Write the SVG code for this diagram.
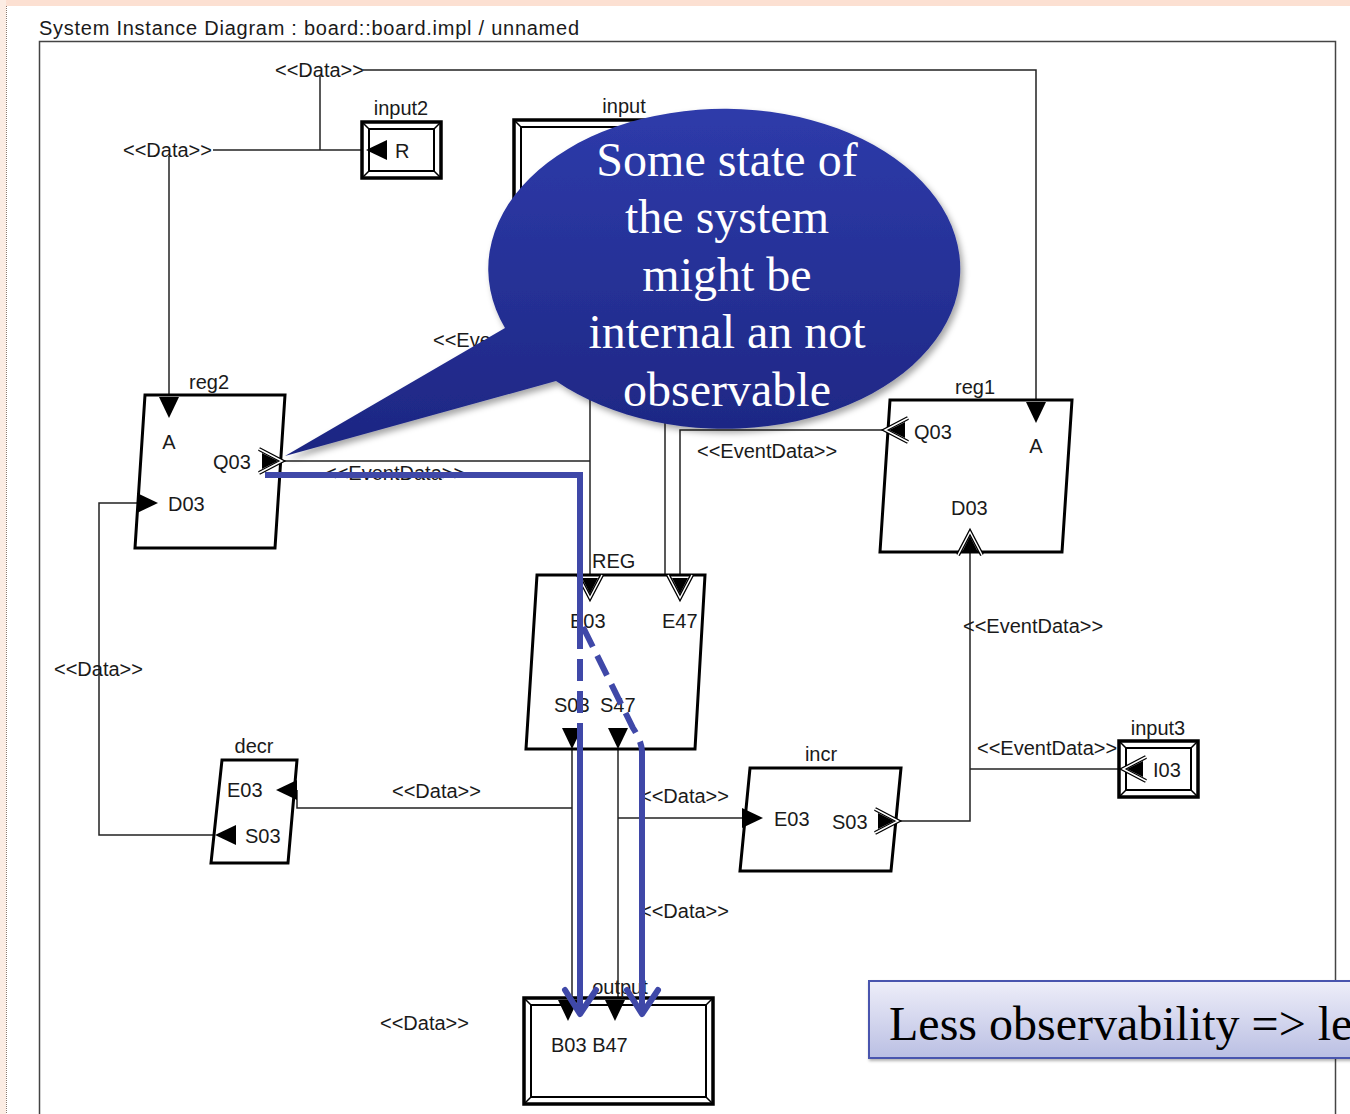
<svg xmlns="http://www.w3.org/2000/svg" xmlns:xlink="http://www.w3.org/1999/xlink" width="1350" height="1114" viewBox="0 0 1350 1114">
<style>
.t{font-family:"Liberation Sans",Arial,sans-serif;font-size:20px;fill:#1a1a1a}
.c{text-anchor:middle}
.w{fill:none;stroke:#222;stroke-width:1.5}
.node{fill:#fff;stroke:#000;stroke-width:3;stroke-linejoin:miter}
.outer{fill:#fff;stroke:#000;stroke-width:3.5}
.inner{fill:none;stroke:#000;stroke-width:2}
.bev{stroke:#000;stroke-width:1.5}
.blue{fill:none;stroke:#3F48A8;stroke-width:6}
.dash{stroke-dasharray:22 10}
.serif{font-family:"Liberation Serif","Times New Roman",serif;font-size:48px}
</style>
<defs>
<polygon id="dp" points="0,-10 21,0 0,10" fill="#000"/>
<g id="edp">
<polyline points="-3,-12 20,0 -3,12" fill="none" stroke="#000" stroke-width="4"/>
<polyline points="-3,-12 20,0 -3,12" fill="none" stroke="#fff" stroke-width="1.5"/>
<polygon points="0,-8 16,0 0,8" fill="#000"/>
</g>
<linearGradient id="bg1" x1="0" y1="0" x2="0" y2="1">
<stop offset="0" stop-color="#2E3BAA"/>
<stop offset="1" stop-color="#1D2682"/>
</linearGradient>
<linearGradient id="bg2" x1="0" y1="0" x2="0" y2="1">
<stop offset="0" stop-color="#EEEEF9"/>
<stop offset="1" stop-color="#BABFE3"/>
</linearGradient>
<filter id="sh" x="-10%" y="-10%" width="130%" height="130%">
<feDropShadow dx="3" dy="4" stdDeviation="3" flood-color="#000" flood-opacity="0.35"/>
</filter>
<filter id="sh2" x="-10%" y="-10%" width="130%" height="130%">
<feDropShadow dx="1" dy="2" stdDeviation="1.5" flood-color="#000" flood-opacity="0.3"/>
</filter>
</defs>

<rect width="1350" height="1114" fill="#fff"/>
<rect x="0" y="0" width="1350" height="6" fill="#FCE0D2"/>
<rect x="0" y="0" width="6" height="1114" fill="#FCEDE4"/>
<line x1="6.5" y1="6" x2="6.5" y2="1114" stroke="#8a7a70" stroke-width="1" stroke-dasharray="1 1"/>

<rect x="39.5" y="41.5" width="1296" height="1100" fill="none" stroke="#444" stroke-width="1.5"/>
<text class="t" x="39" y="35" textLength="540" lengthAdjust="spacing">System Instance Diagram : board::board.impl / unnamed</text>

<g id="connectors">
<path class="w" d="M320 75 V150"/>
<path class="w" d="M363 70 H1036 V402"/>
<path class="w" d="M213 150 H367"/>
<path class="w" d="M169 156 V397"/>
<path class="w" d="M282 461 H590"/>
<path class="w" d="M590 300 V578"/>
<path class="w" d="M665 300 V575"/>
<path class="w" d="M885 430 H680 V578"/>
<path class="w" d="M137 503 H99 V835 H215"/>
<path class="w" d="M297 790 V808 H572"/>
<path class="w" d="M572 748 V1000"/>
<path class="w" d="M618 748 V1000"/>
<path class="w" d="M618 818 H742"/>
<path class="w" d="M896 821 H970 V552"/>
<path class="w" d="M970 769 H1124"/>
<text class="t" x="275" y="77">&lt;&lt;Data&gt;&gt;</text>
<text class="t" x="123" y="157">&lt;&lt;Data&gt;&gt;</text>
<text class="t" x="433" y="347">&lt;&lt;EventData&gt;&gt;</text>
<text class="t" x="325" y="480">&lt;&lt;EventData&gt;&gt;</text>
<text class="t" x="697" y="458">&lt;&lt;EventData&gt;&gt;</text>
<text class="t" x="963" y="633">&lt;&lt;EventData&gt;&gt;</text>
<text class="t" x="54" y="676">&lt;&lt;Data&gt;&gt;</text>
<text class="t" x="392" y="798">&lt;&lt;Data&gt;&gt;</text>
<text class="t" x="640" y="803">&lt;&lt;Data&gt;&gt;</text>
<text class="t" x="977" y="755">&lt;&lt;EventData&gt;&gt;</text>
<text class="t" x="640" y="918">&lt;&lt;Data&gt;&gt;</text>
<text class="t" x="380" y="1030">&lt;&lt;Data&gt;&gt;</text>
</g>

<g id="input2">
<rect class="outer" x="362" y="122" width="79" height="56"/>
<rect class="inner" x="369" y="129" width="65" height="42"/>
<path class="bev" d="M362 122 L369 129 M441 122 L434 129 M441 178 L434 171 M362 178 L369 171"/>
<use href="#dp" transform="translate(387,150) rotate(180)"/>
<text class="t" x="395" y="158">R</text>
<text class="t c" x="401" y="115">input2</text>
</g>

<g id="input">
<rect class="outer" x="514" y="120" width="231" height="150"/>
<rect class="inner" x="521" y="127" width="217" height="136"/>
<path class="bev" d="M514 120 L521 127 M745 120 L738 127"/>
<text class="t c" x="624" y="113">input</text>
</g>

<g id="reg2">
<polygon class="node" points="145,395 285,395 275,548 135,548"/>
<use href="#dp" transform="translate(169,397) rotate(90)"/>
<use href="#edp" transform="translate(262,461)"/>
<use href="#dp" transform="translate(137,503)"/>
<text class="t c" x="209" y="389">reg2</text>
<text class="t c" x="169" y="449">A</text>
<text class="t" x="213" y="469">Q03</text>
<text class="t" x="168" y="511">D03</text>
</g>

<g id="reg1">
<polygon class="node" points="890,400 1072,400 1062,552 880,552"/>
<use href="#edp" transform="translate(905,430) rotate(180)"/>
<use href="#dp" transform="translate(1036,402) rotate(90)"/>
<use href="#edp" transform="translate(970,552) rotate(-90)"/>
<text class="t c" x="975" y="394">reg1</text>
<text class="t" x="914" y="439">Q03</text>
<text class="t c" x="1036" y="453">A</text>
<text class="t" x="951" y="515">D03</text>
</g>

<g id="REG">
<polygon class="node" points="537,575 705,575 695,749 526,749"/>
<use href="#edp" transform="translate(590,578) rotate(90)"/>
<use href="#edp" transform="translate(680,578) rotate(90)"/>
<use href="#dp" transform="translate(572,728) rotate(90)"/>
<use href="#dp" transform="translate(618,728) rotate(90)"/>
<text class="t" x="592" y="568">REG</text>
<text class="t" x="570" y="628">E03</text>
<text class="t" x="662" y="628">E47</text>
<text class="t" x="554" y="712">S03</text>
<text class="t" x="600" y="712">S47</text>
</g>

<g id="decr">
<polygon class="node" points="222,760 297,760 288,863 211,863"/>
<use href="#dp" transform="translate(297,790) rotate(180)"/>
<use href="#dp" transform="translate(236,835) rotate(180)"/>
<text class="t c" x="254" y="753">decr</text>
<text class="t" x="227" y="797">E03</text>
<text class="t" x="245" y="843">S03</text>
</g>

<g id="incr">
<polygon class="node" points="750,768 901,768 891,871 740,871"/>
<use href="#dp" transform="translate(742,818)"/>
<use href="#edp" transform="translate(878,821)"/>
<text class="t c" x="821" y="761">incr</text>
<text class="t" x="774" y="826">E03</text>
<text class="t" x="832" y="829">S03</text>
</g>

<g id="input3">
<rect class="outer" x="1119" y="741" width="79" height="56"/>
<rect class="inner" x="1126" y="748" width="65" height="42"/>
<path class="bev" d="M1119 741 L1126 748 M1198 741 L1191 748 M1198 797 L1191 790 M1119 797 L1126 790"/>
<use href="#edp" transform="translate(1143,769) rotate(180)"/>
<text class="t c" x="1158" y="735">input3</text>
<text class="t" x="1153" y="777">I03</text>
</g>

<g id="output">
<rect class="outer" x="524" y="998" width="189" height="106"/>
<rect class="inner" x="531" y="1005" width="175" height="92"/>
<path class="bev" d="M524 998 L531 1005 M713 998 L706 1005 M713 1104 L706 1097 M524 1104 L531 1097"/>
<use href="#dp" transform="translate(568,1000) rotate(90)"/>
<use href="#dp" transform="translate(615,1000) rotate(90)"/>
<text class="t c" x="620" y="994">output</text>
<text class="t" x="551" y="1052">B03 B47</text>
</g>

<g id="trace">
<path class="blue" d="M265 475 H580 V627"/>
<path class="blue dash" d="M580 627 V732"/>
<path class="blue" d="M580 732 V1013"/>
<path class="blue" stroke-linecap="round" stroke-linejoin="round" d="M565 990 L580 1014 L596 990"/>
<path class="blue dash" d="M583 627 L633 728 Q642 742 642 752"/>
<path class="blue" d="M642 750 V1013"/>
<path class="blue" stroke-linecap="round" stroke-linejoin="round" d="M627 990 L642 1014 L658 990"/>
</g>

<g id="bubble">
<path d="M505 328 L285 456 L556 381 A236 160 0 1 0 505 328 Z" fill="url(#bg1)" filter="url(#sh)"/>
<g class="serif" fill="#fff" text-anchor="middle">
<text x="727" y="176">Some state of</text>
<text x="727" y="233">the system</text>
<text x="727" y="291">might be</text>
<text x="727" y="348">internal an not</text>
<text x="727" y="406">observable</text>
</g>
</g>

<g id="note">
<rect x="869" y="981" width="500" height="77" fill="url(#bg2)" stroke="#4A55AE" stroke-width="2" filter="url(#sh2)"/>
<text class="serif" x="889" y="1040" fill="#000">Less observability =&gt; le</text>
</g>
</svg>
